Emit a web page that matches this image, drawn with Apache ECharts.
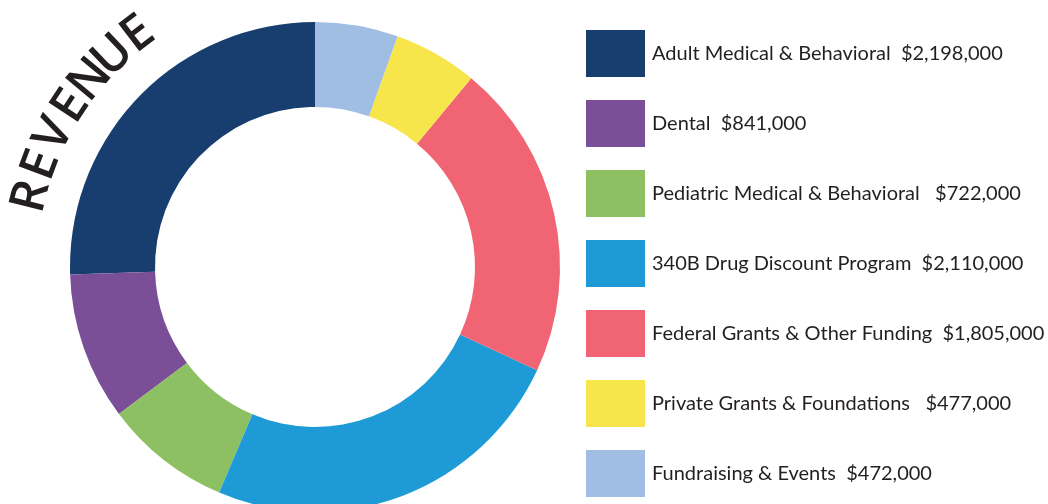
<!DOCTYPE html>
<html>
<head>
<meta charset="utf-8">
<script src="https://cdn.jsdelivr.net/npm/echarts@6/dist/echarts.min.js"></script>
<style>
  html, body { margin: 0; padding: 0; background: #fff; }
  #chart { width: 1048px; height: 504px; }
</style>
</head>
<body>
<div id="chart"></div>
<script>
// revenue sources, in dollars
var categories = [
    'Adult Medical & Behavioral',
    'Dental',
    'Pediatric Medical & Behavioral',
    '340B Drug Discount Program',
    'Federal Grants & Other Funding',
    'Private Grants & Foundations',
    'Fundraising & Events'
];
var amounts = [2198000, 841000, 722000, 2110000, 1805000, 477000, 472000];
var colors = ['#173e6f', '#7b4e98', '#8dc062', '#1e9bd6', '#f06473', '#f7e64b', '#a0bee3'];
var spaces = [2, 2, 3, 2, 2, 3, 2]; // spacing before the amount, as in the original
var title = 'REVENUE';

var chart = echarts.init(document.getElementById('chart'));

var cx = 315, cy = 267;

var money = function (v) {
    return '$' + v.toString().replace(/\B(?=(\d{3})+(?!\d))/g, ',');
};

// title letters follow an arc round the donut
var letters = [];
var arcR = 292, a0 = 14, step = 6.45;
for (var i = 0; i < title.length; i++) {
    var deg = a0 + i * step;
    var rad = deg * Math.PI / 180;
    letters.push({
        type: 'text',
        x: cx - arcR * Math.cos(rad),
        y: cy - arcR * Math.sin(rad),
        rotation: (90 - deg) * Math.PI / 180,
        style: {
            text: title.charAt(i),
            fill: '#231f20',
            font: '600 49px "Open Sans", sans-serif',
            align: 'center',
            verticalAlign: 'middle'
        }
    });
}

var data = [];
for (var k = 0; k < categories.length; k++) {
    data.push({ name: categories[k], value: amounts[k] });
}

chart.setOption({
    animation: false,
    color: colors,
    graphic: letters,
    legend: {
        orient: 'vertical',
        left: 586,
        top: 30,
        padding: 0,
        height: 474,
        icon: 'rect',
        itemWidth: 59,
        itemHeight: 47,
        itemGap: 23,
        selectedMode: false,
        textStyle: {
            color: '#231f20',
            fontFamily: 'Lato, sans-serif',
            fontSize: 20,
            padding: [0, 0, 0, 2]
        },
        formatter: function (name) {
            var idx = categories.indexOf(name);
            return name + new Array(spaces[idx] + 1).join(' ') + money(amounts[idx]);
        }
    },
    series: [{
        type: 'pie',
        center: [cx, cy],
        radius: [160, 245],
        startAngle: 90,
        clockwise: false,
        label: { show: false },
        labelLine: { show: false },
        itemStyle: { borderWidth: 0 },
        emphasis: { disabled: true },
        data: data
    }]
});
</script>
</body>
</html>
